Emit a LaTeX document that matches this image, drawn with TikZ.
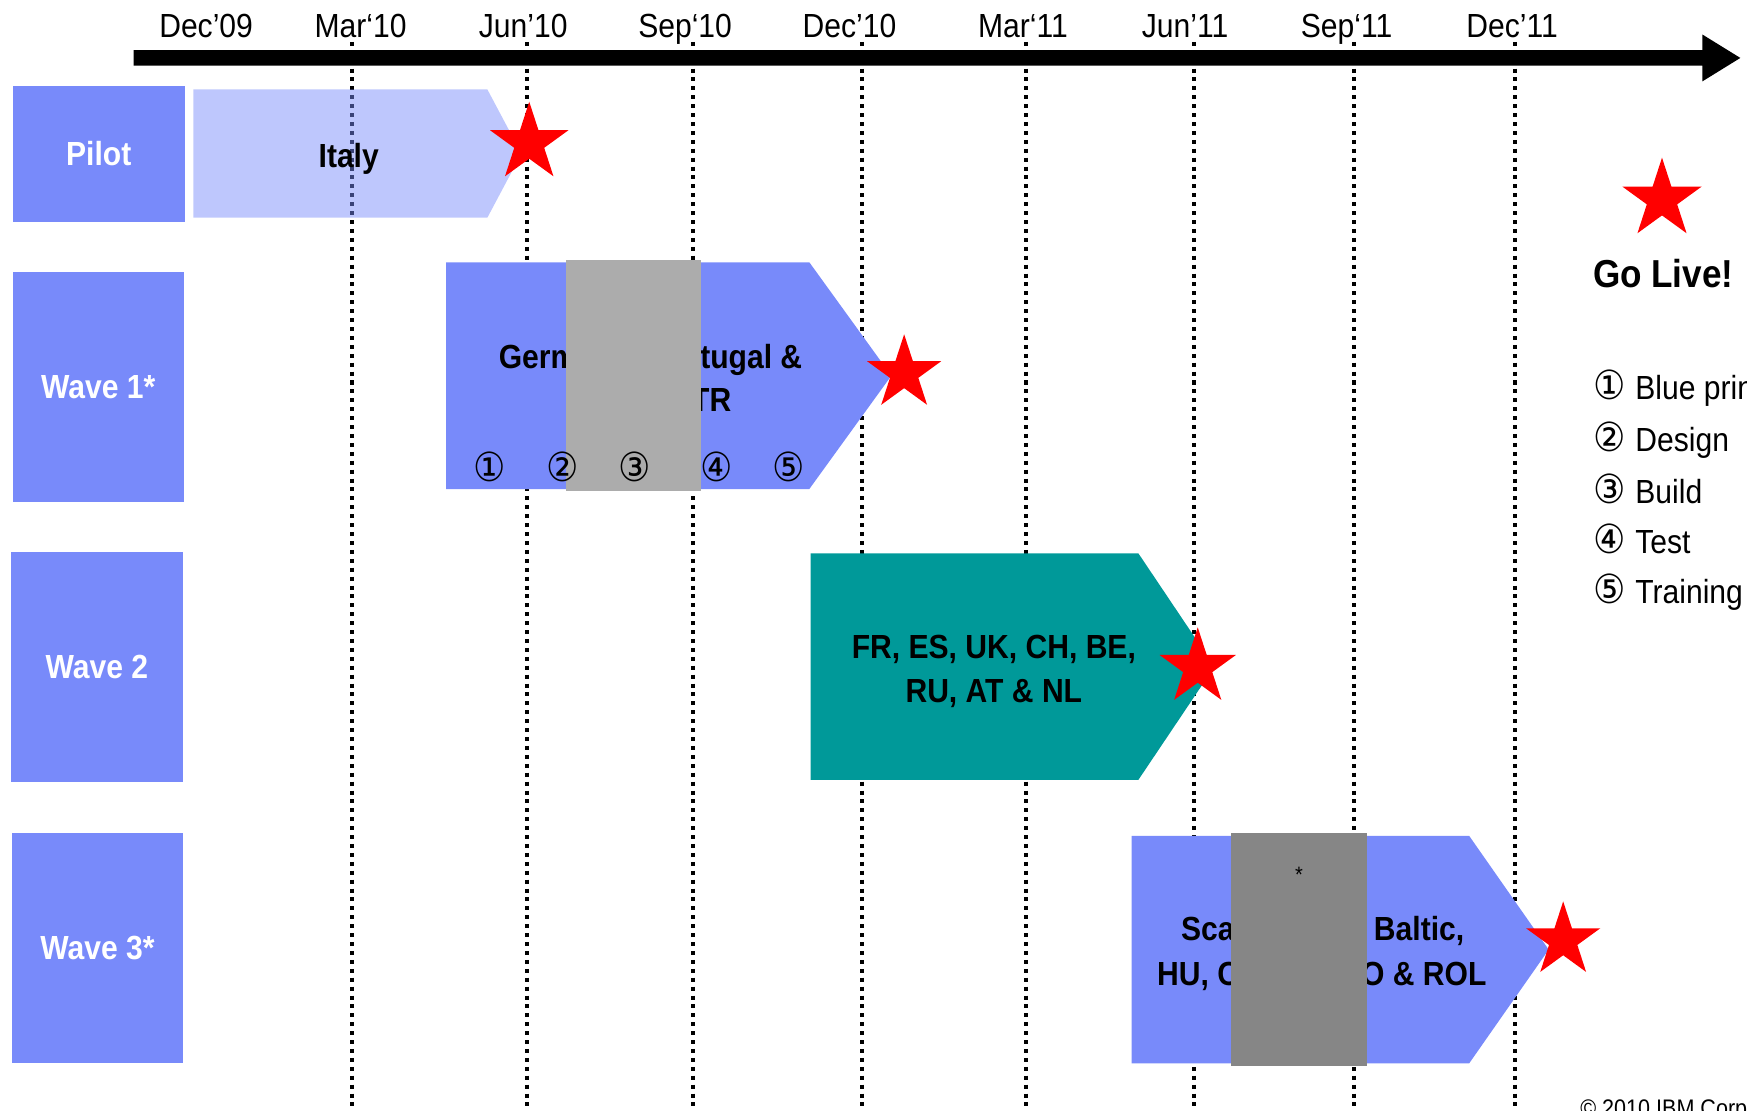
\documentclass[tikz,border=0pt]{standalone}
\usepackage{fontspec}
\setmainfont{Liberation Sans}[FakeStretch=0.9]
\newfontfamily\circfont{DejaVu Sans}[FakeStretch=0.9]
\usetikzlibrary{shapes.geometric}

\definecolor{wavblue}{RGB}{120,138,250}
\definecolor{wavteal}{RGB}{0,153,153}
\definecolor{hatchlight}{RGB}{172,172,172}
\definecolor{hatchdark}{RGB}{134,134,134}

\tikzset{
  monthlbl/.style={anchor=base, inner sep=0pt, font=\fontsize{15}{18}\selectfont},
  gridline/.style={line width=1.8pt, dash pattern=on 1.8pt off 2.2pt},
  wavebox/.style={fill=wavblue},
  wavelabel/.style={text=white, inner sep=0pt, font=\bfseries\fontsize{15}{18}\selectfont},
  bartext/.style={inner sep=0pt, font=\bfseries\fontsize{15}{18}\selectfont},
  circnum/.style={inner sep=0pt, font=\circfont\fontsize{18}{21}\selectfont},
  gostar/.style={star, star points=5, star point ratio=2.618, fill=red, draw=none, inner sep=0pt},
  legendtxt/.style={anchor=base west, inner sep=0pt, font=\fontsize{15}{18}\selectfont},
}

\begin{document}
\begin{tikzpicture}[x=0.5pt, y=-0.5pt]
\useasboundingbox (0,0) rectangle (1568,997);

% quarter grid lines
\foreach \n/\x in {mar10/316, jun10/473, sep10/622, dec10/773.5, mar11/920.5, jun11/1072, sep11/1215, dec11/1360}{
  \coordinate (\n-top) at (\x,37.5);
  \coordinate (\n-bot) at (\x,1000);
  \draw[gridline] (\n-top) -- (\n-bot);
}

% time axis
\fill (120,45) -- (1528,45) -- (1528,31) -- (1562,52) -- (1528,73) -- (1528,59) -- (120,59) -- cycle;

% quarter labels
\foreach \n/\x/\t in {dec09/185/Dec’09, mar10/323.6/Mar‘10, jun10/469.6/Jun’10, sep10/614.9/Sep‘10,
                      dec10/762.5/Dec’10, mar11/918.2/Mar‘11, jun11/1063.7/Jun’11, sep11/1208.6/Sep‘11,
                      dec11/1357.2/Dec’11}{
  \node[monthlbl] (lbl-\n) at (\x,34) {\t};
}

% wave headers
\path[wavebox] (11.3,77.2) rectangle (165.9,199) node[midway, wavelabel] (pilot) {Pilot};
\path[wavebox] (11.4,243.8) rectangle (164.9,450.6) node[midway, wavelabel] (wave1) {Wave 1*};
\path[wavebox] (9.9,495) rectangle (164,701.5) node[midway, wavelabel] (wave2) {Wave 2};
\path[wavebox] (10.8,747.3) rectangle (164.2,953.7) node[midway, wavelabel] (wave3) {Wave 3*};

% pilot: Italy
\fill[wavblue, opacity=0.48] (173.5,80.2) -- (437.4,80.2) -- (468,137.8) -- (437.4,195.4) -- (173.5,195.4) -- cycle;
\node[bartext, anchor=base] (italy) at (313,150.5) {Italy};

% wave 1
\fill[wavblue] (400.3,235.4) -- (726.4,235.4) -- (800,337.2) -- (726.4,438.9) -- (400.3,438.9) -- cycle;
\node[bartext, anchor=base west] (w1a) at (447.3,330.6) {Germ};
\node[bartext, anchor=base east] (w1b) at (720.4,330.6) {tugal \&};
\node[bartext, anchor=base east] (w1c) at (656.7,369.5) {TR};
\fill[hatchlight] (508,233.4) rectangle (629.2,440.4);
\foreach \n/\x/\d in {1/439.2/①, 2/505/②, 3/569.3/③, 4/643.2/④, 5/707.5/⑤}{
  \node[circnum] (phase\n) at (\x,418.8) {\d};
}

% wave 2
\fill[wavteal] (727.6,496.6) -- (1021.7,496.6) -- (1090,598.3) -- (1021.7,700) -- (727.6,700) -- cycle;
\node[bartext, align=center, font=\bfseries\fontsize{15}{19.85}\selectfont] (w2) at (892,602.8)
  {FR, ES, UK, CH, BE,\\RU, AT \& NL};

% wave 3
\fill[wavblue] (1015.6,750.3) -- (1318.7,750.3) -- (1390,852.3) -- (1318.7,954.3) -- (1015.6,954.3) -- cycle;
\node[bartext, anchor=base west] (w3a) at (1059.7,844.3) {Sca};
\node[bartext, anchor=base west] (w3b) at (1232.8,844.3) {Baltic,};
\node[bartext, anchor=base west] (w3c) at (1038.2,884.6) {HU, C};
\node[bartext, anchor=base east] (w3d) at (1334.5,884.6) {O \& ROL};
\fill[hatchdark] (1104.6,748) rectangle (1226.5,956.4);
\node[anchor=base, inner sep=0pt, font=\fontsize{10}{12}\selectfont] (w3note) at (1165.8,792) {*};

% go-live milestones
\node[gostar, minimum size=37pt] (live-pilot) at (475,128.3) {};
\node[gostar, minimum size=35pt] (live-w1) at (811.5,335) {};
\node[gostar, minimum size=36pt] (live-w2) at (1075,599) {};
\node[gostar, minimum size=35pt] (live-w3) at (1403,844) {};

% legend
\node[gostar, minimum size=37.5pt] (live-key) at (1491.7,179) {};
\node[anchor=base, inner sep=0pt, font=\bfseries\fontsize{17.5}{20}\selectfont] (golive) at (1492.8,257.9) {Go Live!};
\foreach \n/\y/\d/\t in {1/359/①/Blue print, 2/405.4/②/Design, 3/451.7/③/Build, 4/496.6/④/Test, 5/541.5/⑤/Training}{
  \node[legendtxt] (key\n) at (1430,\y) {\makebox[18.7pt][l]{\circfont\fontsize{18}{21}\selectfont\d}\t};
}

% footer
\node[anchor=base west, inner sep=0pt, font=\fontsize{10.75}{12}\selectfont] (copyright) at (1418,1001.8) {© 2010 IBM Corporation};
\end{tikzpicture}
\end{document}
